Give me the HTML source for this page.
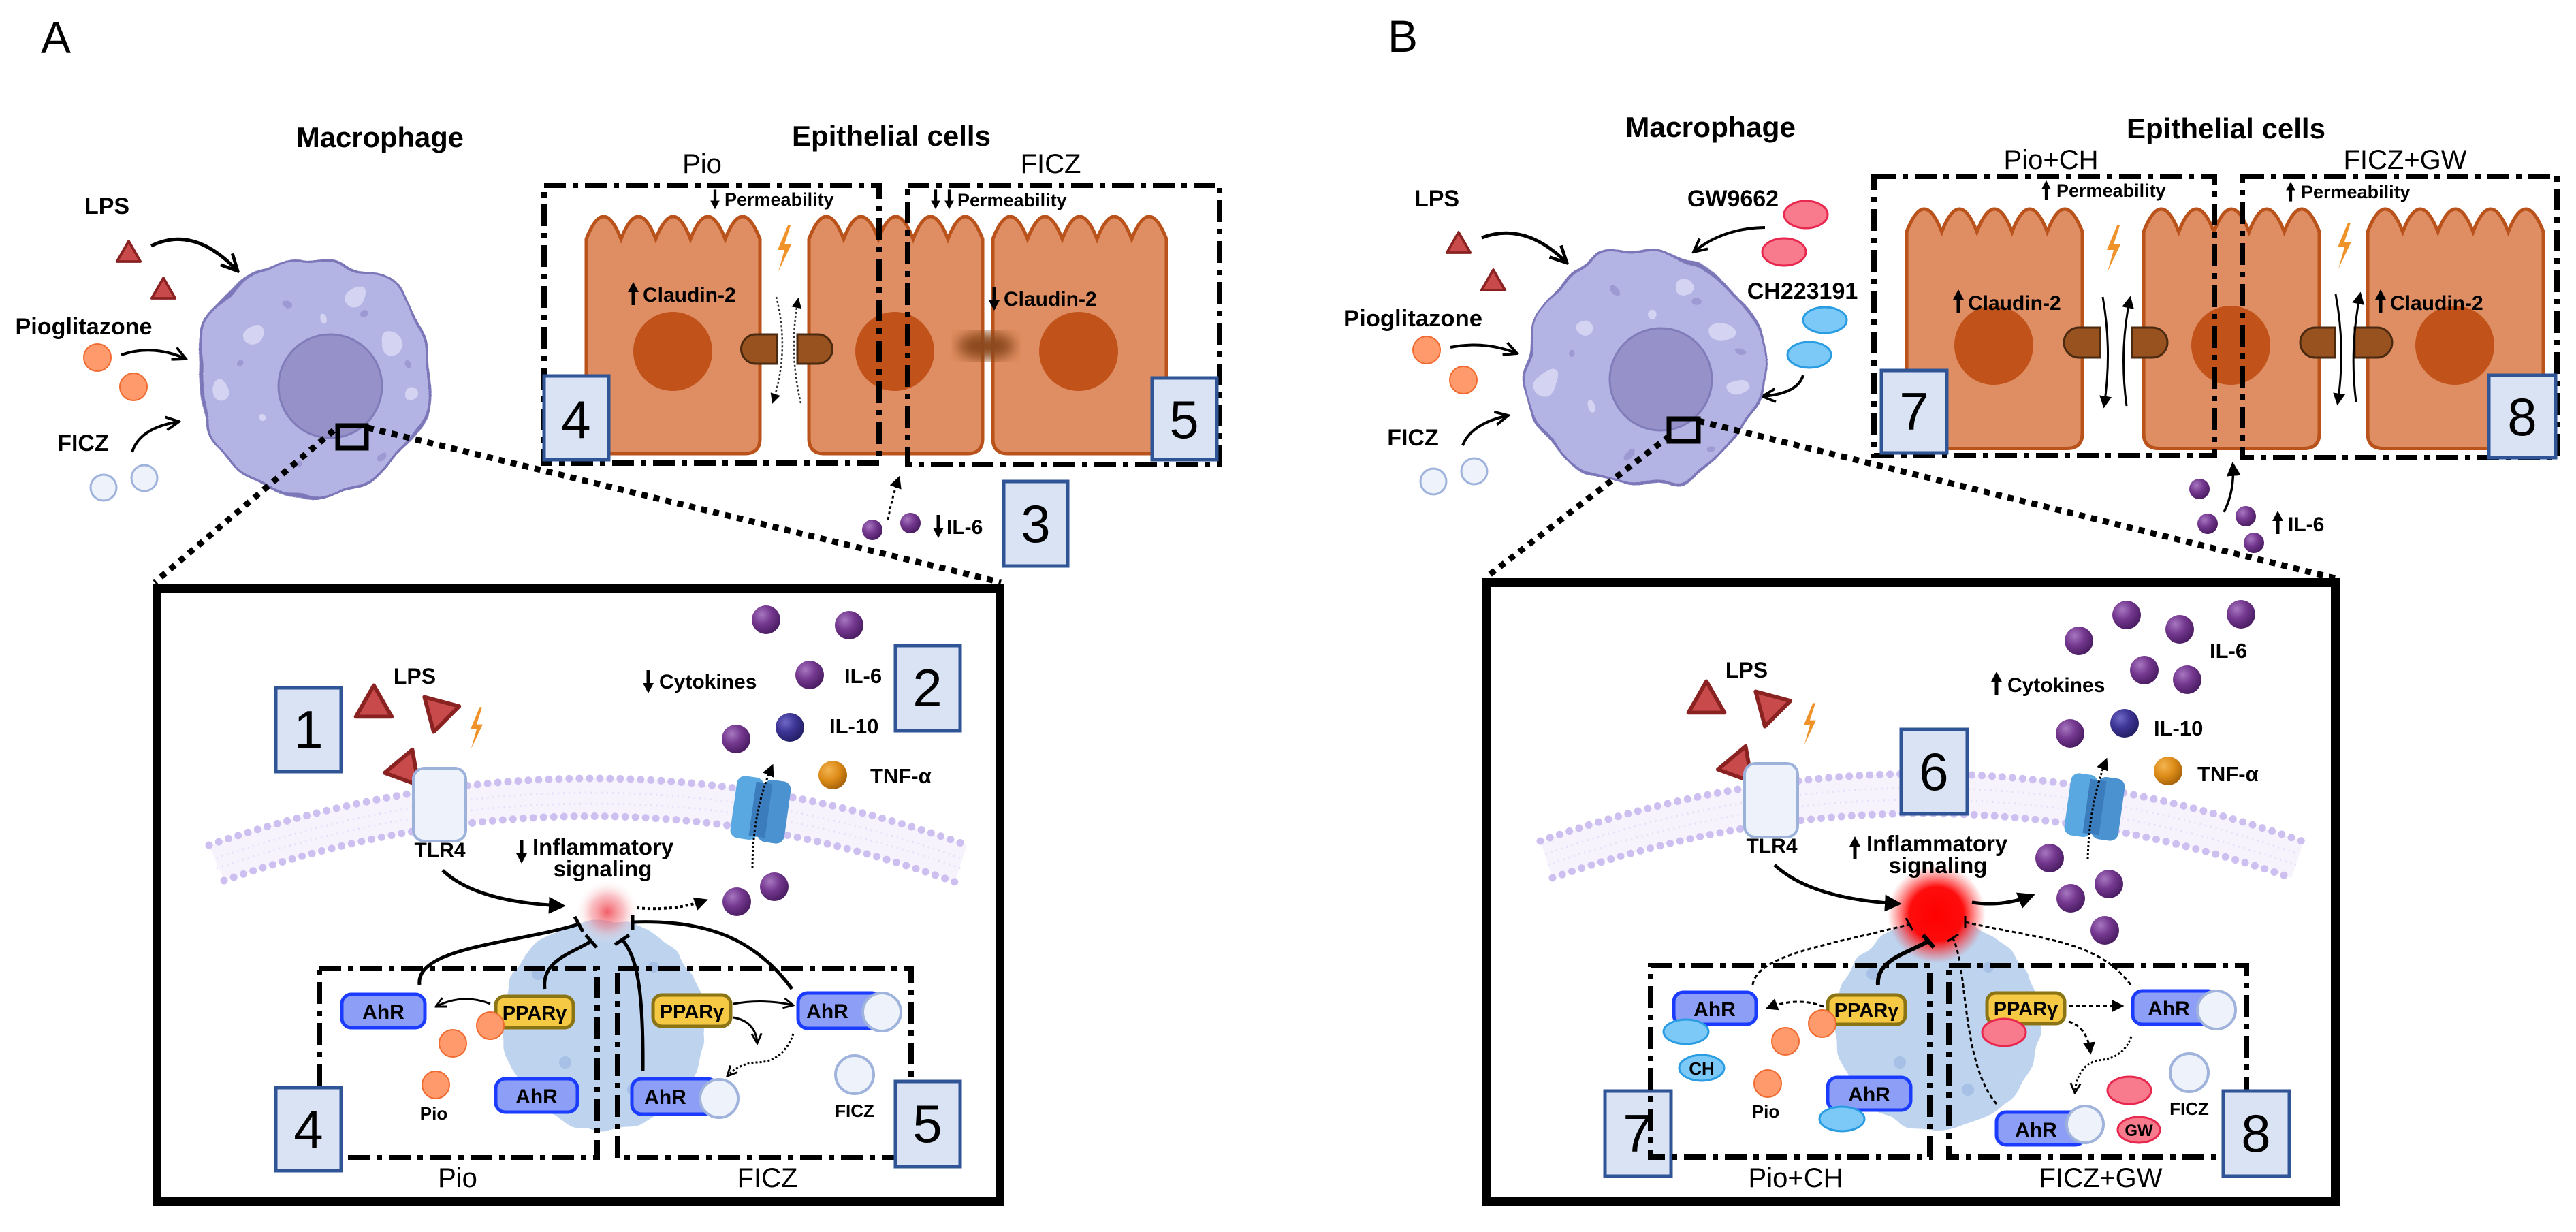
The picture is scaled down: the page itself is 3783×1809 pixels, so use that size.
<!DOCTYPE html>
<html><head><meta charset="utf-8"><style>
html,body{margin:0;padding:0;background:#fff}
svg{display:block}
text{font-family:"Liberation Sans",Arial,sans-serif}
.b{font-weight:bold}
</style></head><body>
<svg width="3783" height="1809" viewBox="0 0 3783 1809" xmlns="http://www.w3.org/2000/svg">
<defs>
<radialGradient id="gP" cx="35%" cy="32%" r="70%"><stop offset="0" stop-color="#a777c0"/><stop offset="0.5" stop-color="#74388f"/><stop offset="1" stop-color="#4b1d63"/></radialGradient>
<radialGradient id="gB" cx="35%" cy="32%" r="70%"><stop offset="0" stop-color="#6f68c4"/><stop offset="0.5" stop-color="#3d3595"/><stop offset="1" stop-color="#231f66"/></radialGradient>
<radialGradient id="gO" cx="35%" cy="32%" r="70%"><stop offset="0" stop-color="#f4b451"/><stop offset="0.55" stop-color="#dc8b17"/><stop offset="1" stop-color="#a8640b"/></radialGradient>
<radialGradient id="glowA"><stop offset="0" stop-color="#f0404a" stop-opacity="0.85"/><stop offset="0.5" stop-color="#f48088" stop-opacity="0.5"/><stop offset="1" stop-color="#ffffff" stop-opacity="0"/></radialGradient>
<radialGradient id="glowB"><stop offset="0" stop-color="#ff0000"/><stop offset="0.55" stop-color="#ff0000" stop-opacity="0.95"/><stop offset="1" stop-color="#ff3030" stop-opacity="0"/></radialGradient>
<filter id="wave" x="-25%" y="-25%" width="150%" height="150%"><feTurbulence type="fractalNoise" baseFrequency="0.018" numOctaves="1" seed="4" result="t"/><feDisplacementMap in="SourceGraphic" in2="t" scale="38" xChannelSelector="R" yChannelSelector="G"/></filter>
<filter id="wave2" x="-25%" y="-25%" width="150%" height="150%"><feTurbulence type="fractalNoise" baseFrequency="0.03" numOctaves="1" seed="7" result="t"/><feDisplacementMap in="SourceGraphic" in2="t" scale="16" xChannelSelector="R" yChannelSelector="G"/></filter>
<filter id="blur"><feGaussianBlur stdDeviation="9"/></filter>
<marker id="ah" viewBox="0 0 10 10" refX="8" refY="5" markerWidth="5" markerHeight="5" orient="auto"><path d="M0,0 L10,5 L0,10 Z" fill="#000"/></marker>
<marker id="ahs" viewBox="0 0 10 10" refX="8" refY="5" markerWidth="6" markerHeight="6" orient="auto"><path d="M0,0 L10,5 L0,10 Z" fill="#000"/></marker>
<marker id="oa" viewBox="0 0 10 10" refX="9" refY="5" markerWidth="6" markerHeight="6" orient="auto"><path d="M1,1 L9,5 L1,9" fill="none" stroke="#000" stroke-width="1.6"/></marker>
<g id="up"><path d="M0,16 V-6" stroke="#000" stroke-width="5"/><path d="M-8,-3 L0,-18 L8,-3 Z" fill="#000"/></g>
<g id="ball"><circle r="21" fill="url(#gP)"/></g>
<g id="balls"><circle r="15" fill="url(#gP)"/></g>
<path id="tri" d="M0,-24 L23,16 L-23,16 Z" fill="#c94a4a" stroke="#8a2222" stroke-width="5" stroke-linejoin="round"/>
<path id="bolt" d="M6,-34 L-9,2 L1,2 L-8,34 L11,-6 L1,-6 L10,-34 Z" fill="#f0922a"/>
<path id="cell" d="M0 33 q25.5 -66 51 0 q25.5 -66 51 0 q25.5 -66 51 0 q25.5 -66 51 0 q25.5 -66 51 0 L255 326 q0 22 -22 22 L22 348 q-22 0 -22 -22 Z" fill="#df8d62" stroke="#b9521b" stroke-width="5"/>
<g id="mac">
 <circle r="172" fill="#b4b4e4" stroke="#7b77b8" stroke-width="4"/>
 <circle cx="-90" cy="-60" r="14" fill="#d4d4f2"/><circle cx="60" cy="-120" r="16" fill="#d4d4f2"/><circle cx="120" cy="-50" r="18" fill="#d4d4f2"/>
 <circle cx="-140" cy="20" r="16" fill="#d4d4f2"/><circle cx="140" cy="30" r="11" fill="#d4d4f2"/><circle cx="-75" cy="60" r="6" fill="#d4d4f2"/>
 <circle cx="20" cy="-80" r="6" fill="#d4d4f2"/><circle cx="-40" cy="-110" r="7" fill="#9d99d2"/><circle cx="80" cy="-95" r="6" fill="#9d99d2"/>
 <circle cx="-110" cy="-20" r="5" fill="#9d99d2"/><circle cx="100" cy="120" r="6" fill="#9d99d2"/><circle cx="-20" cy="130" r="6" fill="#9d99d2"/><circle cx="140" cy="-20" r="5" fill="#9d99d2"/>
</g>
</defs>

<!-- ================= PANEL A ================= -->
<text x="60" y="78" font-size="66">A</text>
<text x="558" y="216" font-size="42" class="b" text-anchor="middle" textLength="246" lengthAdjust="spacingAndGlyphs">Macrophage</text>

<text x="157" y="314" font-size="34" class="b" text-anchor="middle">LPS</text>
<use href="#tri" transform="translate(189,372) scale(0.75)"/>
<use href="#tri" transform="translate(240,426) scale(0.75)"/>
<path d="M222,361 Q285,330 349,398" fill="none" stroke="#000" stroke-width="5" marker-end="url(#oa)"/>
<text x="123" y="491" font-size="34" class="b" text-anchor="middle" textLength="201" lengthAdjust="spacingAndGlyphs">Pioglitazone</text>
<circle cx="143" cy="525" r="20" fill="#fe9a6b" stroke="#f06a30" stroke-width="2"/>
<circle cx="196" cy="568" r="20" fill="#fe9a6b" stroke="#f06a30" stroke-width="2"/>
<path d="M178,521 Q225,505 273,527" fill="none" stroke="#000" stroke-width="4" marker-end="url(#oa)"/>
<text x="122" y="662" font-size="34" class="b" text-anchor="middle">FICZ</text>
<path d="M194,664 Q205,628 263,619" fill="none" stroke="#000" stroke-width="4" marker-end="url(#oa)"/>
<circle cx="152" cy="716" r="19" fill="#eef3fb" stroke="#9fb3dc" stroke-width="3"/>
<circle cx="212" cy="702" r="19" fill="#eef3fb" stroke="#9fb3dc" stroke-width="3"/>

<g filter="url(#wave)"><use href="#mac" transform="translate(460,554)"/></g>
<circle cx="485" cy="567" r="76" fill="#9691c8" stroke="#807cba" stroke-width="3"/>
<rect x="496" y="625" width="42" height="33" fill="none" stroke="#000" stroke-width="7"/>
<path d="M490,632 L227,855" stroke="#000" stroke-width="9" stroke-dasharray="9 9"/>
<path d="M540,628 L1470,855" stroke="#000" stroke-width="9" stroke-dasharray="9 9"/>

<!-- Epithelial A -->
<text x="1309" y="214" font-size="42" class="b" text-anchor="middle" textLength="292" lengthAdjust="spacingAndGlyphs">Epithelial cells</text>
<text x="1031" y="254" font-size="40" text-anchor="middle">Pio</text>
<text x="1543" y="254" font-size="40" text-anchor="middle">FICZ</text>
<use href="#cell" transform="translate(861,318)"/>
<use href="#cell" transform="translate(1188,318)"/>
<use href="#cell" transform="translate(1458,318)"/>
<circle cx="988" cy="516" r="58" fill="#c0521a"/>
<circle cx="1314" cy="516" r="58" fill="#c0521a"/>
<circle cx="1584" cy="516" r="58" fill="#c0521a"/>
<path d="M1141,491 L1110,491 A21.5,21.5 0 0 0 1110,534 L1141,534 Z" fill="#98521f" stroke="#4a2a10" stroke-width="3"/>
<path d="M1171,491 L1201,491 A21.5,21.5 0 0 1 1201,534 L1171,534 Z" fill="#98521f" stroke="#4a2a10" stroke-width="3"/>
<ellipse cx="1448" cy="508" rx="42" ry="20" fill="#8b4a1e" filter="url(#blur)"/>
<use href="#bolt" transform="translate(1151,365)"/>
<path d="M1140,436 Q1160,515 1135,590" fill="none" stroke="#333" stroke-width="2.5" stroke-dasharray="3 3" marker-end="url(#ahs)"/>
<path d="M1176,592 Q1158,515 1172,440" fill="none" stroke="#333" stroke-width="2.5" stroke-dasharray="3 3" marker-end="url(#ahs)"/>
<use href="#up" transform="translate(930,432)"/>
<text x="944" y="443" font-size="30" class="b">Claudin-2</text>
<use href="#up" transform="translate(1460,438) rotate(180)"/>
<text x="1474" y="449" font-size="30" class="b">Claudin-2</text>
<use href="#up" transform="translate(1050,292) rotate(180) scale(0.85)"/>
<text x="1064" y="302" font-size="27" class="b">Permeability</text>
<use href="#up" transform="translate(1374,292) rotate(180) scale(0.85)"/>
<use href="#up" transform="translate(1394,292) rotate(180) scale(0.85)"/>
<text x="1406" y="303" font-size="27" class="b">Permeability</text>
<rect x="799" y="272" width="492" height="408" fill="none" stroke="#000" stroke-width="8" stroke-dasharray="32 10 8 10"/>
<rect x="1333" y="272" width="458" height="410" fill="none" stroke="#000" stroke-width="8" stroke-dasharray="32 10 8 10"/>
<rect x="799" y="552" width="95" height="123" fill="#dae3f3" stroke="#2f5597" stroke-width="5"/>
<text x="846" y="643" font-size="78" text-anchor="middle">4</text>
<rect x="1692" y="555" width="95" height="120" fill="#dae3f3" stroke="#2f5597" stroke-width="5"/>
<text x="1739" y="643" font-size="78" text-anchor="middle">5</text>
<use href="#balls" transform="translate(1281,778)"/>
<use href="#balls" transform="translate(1337,768)"/>
<path d="M1304,763 Q1310,730 1320,702" fill="none" stroke="#000" stroke-width="3" stroke-dasharray="4 4" marker-end="url(#ahs)"/>
<use href="#up" transform="translate(1378,772) rotate(180)"/>
<text x="1390" y="784" font-size="30" class="b">IL-6</text>
<rect x="1474" y="707" width="94" height="124" fill="#dae3f3" stroke="#2f5597" stroke-width="5"/>
<text x="1521" y="796" font-size="78" text-anchor="middle">3</text>

<!-- Inner A -->
<rect x="230.5" y="864.5" width="1238" height="900" fill="#fff" stroke="#000" stroke-width="13"/>
<path d="M307,1241 Q874,1045 1420,1241 L1402,1295 Q874,1103 329,1293 Z" fill="#f6f3fd"/>
<path d="M307,1241 Q874,1045 1420,1241" fill="none" stroke="#cdbff0" stroke-width="11" stroke-linecap="round" stroke-dasharray="0 15"/>
<path d="M329,1293 Q874,1103 1402,1295" fill="none" stroke="#cdbff0" stroke-width="11" stroke-linecap="round" stroke-dasharray="0 15"/>
<path d="M318,1260 Q874,1068 1411,1260 M318,1275 Q874,1085 1411,1275" fill="none" stroke="#e6defa" stroke-width="3" stroke-dasharray="2 6"/>
<g filter="url(#wave2)"><ellipse cx="886" cy="1505" rx="150" ry="155" fill="#bdd3ee"/></g>
<g fill="#a6c0e6"><circle cx="790" cy="1430" r="9"/><circle cx="960" cy="1420" r="8"/><circle cx="1000" cy="1500" r="9"/><circle cx="830" cy="1560" r="9"/><circle cx="930" cy="1600" r="9"/><circle cx="810" cy="1480" r="8"/></g>
<circle cx="892" cy="1339" r="48" fill="url(#glowA)"/>

<rect x="405" y="1010" width="96" height="123" fill="#dae3f3" stroke="#2f5597" stroke-width="5"/>
<text x="453" y="1098" font-size="78" text-anchor="middle">1</text>
<text x="609" y="1004" font-size="32" class="b" text-anchor="middle">LPS</text>
<use href="#tri" transform="translate(549,1034) scale(1.15)"/>
<use href="#tri" transform="translate(644,1048) rotate(195) scale(1.15)"/>
<use href="#tri" transform="translate(592,1130) rotate(-100) scale(1.15)"/>
<use href="#bolt" transform="translate(699,1069) scale(0.9)"/>
<rect x="607" y="1128" width="77" height="107" rx="16" fill="#eef3fb" stroke="#9db2db" stroke-width="4"/>
<text x="646" y="1258" font-size="30" class="b" text-anchor="middle">TLR4</text>
<use href="#up" transform="translate(766,1250) rotate(180)"/>
<text x="782" y="1255" font-size="33" class="b">Inflammatory</text>
<text x="885" y="1287" font-size="33" class="b" text-anchor="middle">signaling</text>
<path d="M650,1278 Q700,1325 826,1330" fill="none" stroke="#000" stroke-width="5" marker-end="url(#ah)"/>
<path d="M935,1333 Q990,1338 1036,1322" fill="none" stroke="#000" stroke-width="4" stroke-dasharray="4 4" marker-end="url(#ah)"/>
<use href="#ball" transform="translate(1082,1324)"/>
<use href="#ball" transform="translate(1137,1302)"/>
<g transform="translate(1117,1189) rotate(8)"><rect x="-40" y="-46" width="40" height="92" rx="12" fill="#5aa8e2"/><rect x="0" y="-46" width="40" height="92" rx="12" fill="#4a92d0"/><rect x="-12" y="-40" width="24" height="80" fill="#3a7cbc"/></g>
<path d="M1105,1275 Q1105,1190 1134,1125" fill="none" stroke="#000" stroke-width="3" stroke-dasharray="3 3" marker-end="url(#ahs)"/>
<use href="#up" transform="translate(952,1000) rotate(180)"/>
<text x="968" y="1011" font-size="30" class="b">Cytokines</text>
<use href="#ball" transform="translate(1125,910)"/><use href="#ball" transform="translate(1247,918)"/>
<use href="#ball" transform="translate(1189,991)"/><use href="#ball" transform="translate(1081,1085)"/>
<circle cx="1160" cy="1068" r="21" fill="url(#gB)"/>
<circle cx="1223" cy="1138" r="21" fill="url(#gO)"/>
<text x="1240" y="1003" font-size="31" class="b">IL-6</text>
<text x="1218" y="1077" font-size="31" class="b">IL-10</text>
<text x="1278" y="1150" font-size="31" class="b">TNF-α</text>
<rect x="1315" y="948" width="95" height="125" fill="#dae3f3" stroke="#2f5597" stroke-width="5"/>
<text x="1362" y="1037" font-size="78" text-anchor="middle">2</text>

<rect x="469" y="1422" width="408" height="278" fill="none" stroke="#000" stroke-width="8" stroke-dasharray="32 10 8 10"/>
<rect x="907" y="1422" width="431" height="278" fill="none" stroke="#000" stroke-width="8" stroke-dasharray="32 10 8 10"/>
<g fill="none" stroke="#000" stroke-width="5">
<path d="M616,1446 C610,1390 760,1385 850,1357"/><path d="M844,1346 L856,1368"/>
<path d="M800,1452 C795,1410 840,1400 868,1382"/><path d="M860,1373 L876,1391"/>
<path d="M944,1572 C945,1450 935,1405 914,1380"/><path d="M903,1387 L924,1373"/>
<path d="M1163,1452 C1110,1380 1040,1350 930,1354"/><path d="M929,1343 L929,1365"/>
</g>
<path d="M720,1474 Q680,1458 640,1478" fill="none" stroke="#000" stroke-width="3" marker-end="url(#oa)"/>
<rect x="502" y="1460" width="122" height="49" rx="14" fill="#8c9ef5" stroke="#1b3cff" stroke-width="5"/>
<text x="563" y="1496" font-size="30" class="b" text-anchor="middle">AhR</text>
<rect x="728" y="1463" width="114" height="46" rx="13" fill="#f6c945" stroke="#8a7414" stroke-width="5"/>
<text x="785" y="1497" font-size="29" class="b" text-anchor="middle">PPARγ</text>
<circle cx="720" cy="1506" r="20" fill="#fe9a6b" stroke="#f06a30" stroke-width="2"/>
<circle cx="665" cy="1532" r="20" fill="#fe9a6b" stroke="#f06a30" stroke-width="2"/>
<circle cx="640" cy="1593" r="20" fill="#fe9a6b" stroke="#f06a30" stroke-width="2"/>
<text x="637" y="1644" font-size="26" class="b" text-anchor="middle">Pio</text>
<rect x="728" y="1584" width="120" height="49" rx="14" fill="#8c9ef5" stroke="#1b3cff" stroke-width="5"/>
<text x="788" y="1620" font-size="30" class="b" text-anchor="middle">AhR</text>
<path d="M1077,1474 Q1120,1466 1165,1476" fill="none" stroke="#000" stroke-width="3" marker-end="url(#oa)"/>
<path d="M1077,1494 Q1110,1500 1112,1532" fill="none" stroke="#000" stroke-width="3" marker-end="url(#oa)"/>
<path d="M1165,1518 Q1150,1560 1110,1560 Q1085,1562 1068,1580" fill="none" stroke="#000" stroke-width="3" stroke-dasharray="3 3" marker-end="url(#oa)"/>
<rect x="959" y="1461" width="114" height="46" rx="13" fill="#f6c945" stroke="#8a7414" stroke-width="5"/>
<text x="1016" y="1495" font-size="29" class="b" text-anchor="middle">PPARγ</text>
<rect x="1172" y="1458" width="122" height="52" rx="14" fill="#8c9ef5" stroke="#1b3cff" stroke-width="5"/>
<text x="1215" y="1495" font-size="30" class="b" text-anchor="middle">AhR</text>
<circle cx="1295" cy="1486" r="28" fill="#eef3fb" stroke="#9fb3dc" stroke-width="4"/>
<rect x="928" y="1584" width="125" height="52" rx="14" fill="#8c9ef5" stroke="#1b3cff" stroke-width="5"/>
<text x="977" y="1621" font-size="30" class="b" text-anchor="middle">AhR</text>
<circle cx="1056" cy="1613" r="28" fill="#eef3fb" stroke="#9fb3dc" stroke-width="4"/>
<circle cx="1255" cy="1578" r="28" fill="#eef3fb" stroke="#9fb3dc" stroke-width="4"/>
<text x="1255" y="1640" font-size="26" class="b" text-anchor="middle">FICZ</text>
<rect x="405" y="1597" width="96" height="122" fill="#dae3f3" stroke="#2f5597" stroke-width="5"/>
<text x="453" y="1685" font-size="78" text-anchor="middle">4</text>
<rect x="1315" y="1588" width="95" height="125" fill="#dae3f3" stroke="#2f5597" stroke-width="5"/>
<text x="1362" y="1677" font-size="78" text-anchor="middle">5</text>
<text x="672" y="1743" font-size="40" text-anchor="middle">Pio</text>
<text x="1127" y="1743" font-size="40" text-anchor="middle">FICZ</text>

<!-- ================= PANEL B ================= -->
<text x="2038" y="76" font-size="66">B</text>
<text x="2512" y="201" font-size="42" class="b" text-anchor="middle" textLength="250" lengthAdjust="spacingAndGlyphs">Macrophage</text>
<text x="2110" y="303" font-size="34" class="b" text-anchor="middle">LPS</text>
<use href="#tri" transform="translate(2142,359) scale(0.75)"/>
<use href="#tri" transform="translate(2193,414) scale(0.75)"/>
<path d="M2176,349 Q2240,325 2301,386" fill="none" stroke="#000" stroke-width="5" marker-end="url(#oa)"/>
<text x="2075" y="479" font-size="34" class="b" text-anchor="middle" textLength="204" lengthAdjust="spacingAndGlyphs">Pioglitazone</text>
<circle cx="2095" cy="514" r="20" fill="#fe9a6b" stroke="#f06a30" stroke-width="2"/>
<circle cx="2149" cy="558" r="20" fill="#fe9a6b" stroke="#f06a30" stroke-width="2"/>
<path d="M2130,510 Q2180,500 2228,519" fill="none" stroke="#000" stroke-width="4" marker-end="url(#oa)"/>
<text x="2075" y="654" font-size="34" class="b" text-anchor="middle">FICZ</text>
<path d="M2148,654 Q2160,622 2215,610" fill="none" stroke="#000" stroke-width="4" marker-end="url(#oa)"/>
<circle cx="2105" cy="707" r="19" fill="#eef3fb" stroke="#9fb3dc" stroke-width="3"/>
<circle cx="2165" cy="692" r="19" fill="#eef3fb" stroke="#9fb3dc" stroke-width="3"/>
<text x="2545" y="303" font-size="34" class="b" text-anchor="middle">GW9662</text>
<ellipse cx="2652" cy="315" rx="32" ry="20" fill="#f77b8c" stroke="#e8284e" stroke-width="3"/>
<ellipse cx="2620" cy="370" rx="32" ry="20" fill="#f77b8c" stroke="#e8284e" stroke-width="3"/>
<path d="M2592,334 Q2530,335 2487,370" fill="none" stroke="#000" stroke-width="4" marker-end="url(#oa)"/>
<text x="2647" y="439" font-size="34" class="b" text-anchor="middle">CH223191</text>
<ellipse cx="2680" cy="470" rx="32" ry="19" fill="#7cc8f6" stroke="#2a9ce2" stroke-width="3"/>
<ellipse cx="2657" cy="521" rx="32" ry="19" fill="#7cc8f6" stroke="#2a9ce2" stroke-width="3"/>
<path d="M2648,551 Q2640,578 2588,582" fill="none" stroke="#000" stroke-width="4" marker-end="url(#oa)"/>
<g filter="url(#wave)"><use href="#mac" transform="translate(2413,539)"/></g>
<circle cx="2439" cy="557" r="75" fill="#9691c8" stroke="#807cba" stroke-width="3"/>
<rect x="2451" y="615" width="43" height="33" fill="none" stroke="#000" stroke-width="7"/>
<path d="M2452,640 L2182,848" stroke="#000" stroke-width="9" stroke-dasharray="9 9"/>
<path d="M2494,618 L3433,850" stroke="#000" stroke-width="9" stroke-dasharray="9 9"/>

<!-- Epithelial B -->
<text x="3269" y="203" font-size="42" class="b" text-anchor="middle" textLength="292" lengthAdjust="spacingAndGlyphs">Epithelial cells</text>
<text x="3012" y="248" font-size="40" text-anchor="middle">Pio+CH</text>
<text x="3532" y="248" font-size="40" text-anchor="middle">FICZ+GW</text>
<use href="#cell" transform="translate(2800,307) scale(1.012,1.01)"/>
<use href="#cell" transform="translate(3148,307) scale(1.012,1.01)"/>
<use href="#cell" transform="translate(3477,307) scale(1.012,1.01)"/>
<circle cx="2928" cy="507" r="58" fill="#c0521a"/>
<circle cx="3276" cy="507" r="58" fill="#c0521a"/>
<circle cx="3605" cy="507" r="58" fill="#c0521a"/>
<path d="M3084,481 L3053,481 A22,22 0 0 0 3053,525 L3084,525 Z" fill="#98521f" stroke="#4a2a10" stroke-width="3"/>
<path d="M3131,481 L3161,481 A22,22 0 0 1 3161,525 L3131,525 Z" fill="#98521f" stroke="#4a2a10" stroke-width="3"/>
<path d="M3429,481 L3400,481 A22,22 0 0 0 3400,525 L3429,525 Z" fill="#98521f" stroke="#4a2a10" stroke-width="3"/>
<path d="M3458,481 L3491,481 A22,22 0 0 1 3491,525 L3458,525 Z" fill="#98521f" stroke="#4a2a10" stroke-width="3"/>
<use href="#bolt" transform="translate(3103,365)"/>
<use href="#bolt" transform="translate(3442,361)"/>
<path d="M3088,436 Q3102,515 3090,596" fill="none" stroke="#000" stroke-width="3" marker-end="url(#ahs)"/>
<path d="M3123,596 Q3112,515 3128,438" fill="none" stroke="#000" stroke-width="3" marker-end="url(#ahs)"/>
<path d="M3430,432 Q3445,512 3433,592" fill="none" stroke="#000" stroke-width="3" marker-end="url(#ahs)"/>
<path d="M3460,590 Q3450,512 3466,432" fill="none" stroke="#000" stroke-width="3" marker-end="url(#ahs)"/>
<use href="#up" transform="translate(2876,443)"/>
<text x="2890" y="455" font-size="30" class="b">Claudin-2</text>
<use href="#up" transform="translate(3496,443)"/>
<text x="3510" y="455" font-size="30" class="b">Claudin-2</text>
<use href="#up" transform="translate(3005,280) scale(0.85)"/>
<text x="3020" y="289" font-size="27" class="b">Permeability</text>
<use href="#up" transform="translate(3364,282) scale(0.85)"/>
<text x="3379" y="291" font-size="27" class="b">Permeability</text>
<rect x="2752" y="259" width="500" height="410" fill="none" stroke="#000" stroke-width="8" stroke-dasharray="32 10 8 10"/>
<rect x="3293" y="259" width="462" height="413" fill="none" stroke="#000" stroke-width="8" stroke-dasharray="32 10 8 10"/>
<rect x="2763" y="544" width="96" height="121" fill="#dae3f3" stroke="#2f5597" stroke-width="5"/>
<text x="2811" y="631" font-size="78" text-anchor="middle">7</text>
<rect x="3655" y="551" width="98" height="121" fill="#dae3f3" stroke="#2f5597" stroke-width="5"/>
<text x="3704" y="639" font-size="78" text-anchor="middle">8</text>
<use href="#balls" transform="translate(3230,718)"/>
<use href="#balls" transform="translate(3242,769)"/>
<use href="#balls" transform="translate(3298,758)"/>
<use href="#balls" transform="translate(3310,797)"/>
<path d="M3266,752 Q3282,720 3279,682" fill="none" stroke="#000" stroke-width="3.5" marker-end="url(#ahs)"/>
<use href="#up" transform="translate(3345,768)"/>
<text x="3360" y="780" font-size="30" class="b">IL-6</text>

<!-- Inner B -->
<rect x="2182.5" y="855.5" width="1247" height="909" fill="#fff" stroke="#000" stroke-width="13"/>
<path d="M2262,1235 Q2822,1037 3383,1236 L3365,1289 Q2822,1100 2280,1289 Z" fill="#f6f3fd"/>
<path d="M2262,1235 Q2822,1037 3383,1236" fill="none" stroke="#cdbff0" stroke-width="11" stroke-linecap="round" stroke-dasharray="0 15"/>
<path d="M2280,1289 Q2822,1100 3365,1289" fill="none" stroke="#cdbff0" stroke-width="11" stroke-linecap="round" stroke-dasharray="0 15"/>
<path d="M2270,1254 Q2822,1060 3375,1254 M2273,1270 Q2822,1078 3372,1270" fill="none" stroke="#e6defa" stroke-width="3" stroke-dasharray="2 6"/>
<g filter="url(#wave2)"><ellipse cx="2845" cy="1505" rx="150" ry="155" fill="#bdd3ee"/></g>
<g fill="#a6c0e6"><circle cx="2750" cy="1430" r="9"/><circle cx="2920" cy="1420" r="8"/><circle cx="2960" cy="1500" r="9"/><circle cx="2790" cy="1560" r="9"/><circle cx="2890" cy="1600" r="9"/><circle cx="2770" cy="1480" r="8"/></g>
<circle cx="2844" cy="1342" r="72" fill="url(#glowB)"/>

<rect x="2357" y="1602" width="97" height="125" fill="#dae3f3" stroke="#2f5597" stroke-width="5"/>
<text x="2405" y="1691" font-size="78" text-anchor="middle">7</text>
<text x="2565" y="995" font-size="32" class="b" text-anchor="middle">LPS</text>
<use href="#tri" transform="translate(2506,1028) scale(1.15)"/>
<use href="#tri" transform="translate(2599,1040) rotate(195) scale(1.15)"/>
<use href="#tri" transform="translate(2550,1125) rotate(-100) scale(1.15)"/>
<use href="#bolt" transform="translate(2657,1063) scale(0.9)"/>
<rect x="2562" y="1121" width="78" height="108" rx="16" fill="#eef3fb" stroke="#9db2db" stroke-width="4"/>
<text x="2602" y="1252" font-size="30" class="b" text-anchor="middle">TLR4</text>
<rect x="2792" y="1071" width="97" height="124" fill="#dae3f3" stroke="#2f5597" stroke-width="5"/>
<text x="2840" y="1160" font-size="78" text-anchor="middle">6</text>
<use href="#up" transform="translate(2724,1246)"/>
<text x="2741" y="1250" font-size="33" class="b">Inflammatory</text>
<text x="2846" y="1282" font-size="33" class="b" text-anchor="middle">signaling</text>
<path d="M2606,1270 Q2660,1320 2788,1327" fill="none" stroke="#000" stroke-width="5" marker-end="url(#ah)"/>
<path d="M2896,1325 Q2940,1332 2984,1315" fill="none" stroke="#000" stroke-width="5" marker-end="url(#ah)"/>
<use href="#ball" transform="translate(3010,1260)"/><use href="#ball" transform="translate(3097,1298)"/>
<use href="#ball" transform="translate(3041,1319)"/><use href="#ball" transform="translate(3091,1366)"/>
<g transform="translate(3076,1185) rotate(8)"><rect x="-40" y="-46" width="40" height="92" rx="12" fill="#5aa8e2"/><rect x="0" y="-46" width="40" height="92" rx="12" fill="#4a92d0"/><rect x="-12" y="-40" width="24" height="80" fill="#3a7cbc"/></g>
<path d="M3066,1262 Q3068,1180 3093,1116" fill="none" stroke="#000" stroke-width="3" stroke-dasharray="3 3" marker-end="url(#ahs)"/>
<use href="#up" transform="translate(2932,1004)"/>
<text x="2948" y="1016" font-size="30" class="b">Cytokines</text>
<use href="#ball" transform="translate(3053,941)"/><use href="#ball" transform="translate(3123,903)"/>
<use href="#ball" transform="translate(3201,924)"/><use href="#ball" transform="translate(3291,902)"/>
<use href="#ball" transform="translate(3149,984)"/><use href="#ball" transform="translate(3212,998)"/>
<use href="#ball" transform="translate(3040,1077)"/>
<circle cx="3120" cy="1062" r="21" fill="url(#gB)"/>
<circle cx="3184" cy="1132" r="21" fill="url(#gO)"/>
<text x="3245" y="966" font-size="31" class="b">IL-6</text>
<text x="3163" y="1080" font-size="31" class="b">IL-10</text>
<text x="3227" y="1147" font-size="31" class="b">TNF-α</text>

<rect x="2424" y="1418" width="410" height="281" fill="none" stroke="#000" stroke-width="8" stroke-dasharray="32 10 8 10"/>
<rect x="2862" y="1418" width="437" height="281" fill="none" stroke="#000" stroke-width="8" stroke-dasharray="32 10 8 10"/>
<g fill="none" stroke="#000" stroke-width="3" stroke-dasharray="6 4">
<path d="M2574,1446 C2580,1400 2700,1385 2805,1357"/>
<path d="M2932,1621 C2880,1560 2890,1420 2868,1378"/>
<path d="M3129,1446 C3080,1380 3000,1380 2886,1354"/>
</g>
<g fill="none" stroke="#000" stroke-width="3"><path d="M2799,1348 L2809,1366"/><path d="M2860,1382 L2876,1372"/><path d="M2886,1345 L2886,1363"/></g>
<path d="M2758,1446 C2755,1410 2800,1400 2832,1382" fill="none" stroke="#000" stroke-width="6"/>
<path d="M2824,1373 L2840,1391" stroke="#000" stroke-width="6"/>
<path d="M2678,1478 Q2640,1463 2596,1480" fill="none" stroke="#000" stroke-width="3" stroke-dasharray="6 4" marker-end="url(#ahs)"/>
<rect x="2458" y="1457" width="121" height="47" rx="14" fill="#8c9ef5" stroke="#1b3cff" stroke-width="5"/>
<text x="2518" y="1492" font-size="30" class="b" text-anchor="middle">AhR</text>
<ellipse cx="2476" cy="1515" rx="33" ry="18" fill="#7cc8f6" stroke="#2a9ce2" stroke-width="3"/>
<ellipse cx="2499" cy="1568" rx="33" ry="19" fill="#7cc8f6" stroke="#2a9ce2" stroke-width="3"/>
<text x="2499" y="1578" font-size="26" class="b" text-anchor="middle">CH</text>
<rect x="2684" y="1461" width="114" height="43" rx="13" fill="#f6c945" stroke="#8a7414" stroke-width="5"/>
<text x="2741" y="1493" font-size="29" class="b" text-anchor="middle">PPARγ</text>
<circle cx="2676" cy="1503" r="20" fill="#fe9a6b" stroke="#f06a30" stroke-width="2"/>
<circle cx="2622" cy="1529" r="20" fill="#fe9a6b" stroke="#f06a30" stroke-width="2"/>
<circle cx="2596" cy="1591" r="20" fill="#fe9a6b" stroke="#f06a30" stroke-width="2"/>
<text x="2593" y="1641" font-size="26" class="b" text-anchor="middle">Pio</text>
<rect x="2684" y="1582" width="122" height="48" rx="14" fill="#8c9ef5" stroke="#1b3cff" stroke-width="5"/>
<text x="2745" y="1617" font-size="30" class="b" text-anchor="middle">AhR</text>
<ellipse cx="2705" cy="1643" rx="33" ry="18" fill="#7cc8f6" stroke="#2a9ce2" stroke-width="3"/>

<path d="M3038,1477 L3116,1477" fill="none" stroke="#000" stroke-width="3" stroke-dasharray="6 4" marker-end="url(#ahs)"/>
<path d="M3038,1500 Q3065,1508 3070,1545" fill="none" stroke="#000" stroke-width="3" stroke-dasharray="6 4" marker-end="url(#ahs)"/>
<path d="M3130,1522 Q3118,1555 3080,1557 Q3050,1565 3047,1605" fill="none" stroke="#000" stroke-width="3" stroke-dasharray="3 3" marker-end="url(#oa)"/>
<rect x="2918" y="1458" width="114" height="45" rx="13" fill="#f6c945" stroke="#8a7414" stroke-width="5"/>
<text x="2975" y="1491" font-size="29" class="b" text-anchor="middle">PPARγ</text>
<ellipse cx="2943" cy="1516" rx="32" ry="20" fill="#f77b8c" stroke="#e8284e" stroke-width="3"/>
<rect x="3132" y="1455" width="124" height="49" rx="14" fill="#8c9ef5" stroke="#1b3cff" stroke-width="5"/>
<text x="3185" y="1491" font-size="30" class="b" text-anchor="middle">AhR</text>
<circle cx="3255" cy="1483" r="28" fill="#eef3fb" stroke="#9fb3dc" stroke-width="4"/>
<circle cx="3215" cy="1575" r="28" fill="#eef3fb" stroke="#9fb3dc" stroke-width="4"/>
<text x="3215" y="1637" font-size="26" class="b" text-anchor="middle">FICZ</text>
<ellipse cx="3127" cy="1601" rx="32" ry="20" fill="#f77b8c" stroke="#e8284e" stroke-width="3"/>
<ellipse cx="3141" cy="1659" rx="31" ry="19" fill="#f77b8c" stroke="#e8284e" stroke-width="3"/>
<text x="3141" y="1668" font-size="24" class="b" text-anchor="middle">GW</text>
<rect x="2932" y="1633" width="130" height="48" rx="14" fill="#8c9ef5" stroke="#1b3cff" stroke-width="5"/>
<text x="2990" y="1669" font-size="30" class="b" text-anchor="middle">AhR</text>
<circle cx="3062" cy="1651" r="27" fill="#eef3fb" stroke="#9fb3dc" stroke-width="4"/>
<rect x="3265" y="1602" width="97" height="125" fill="#dae3f3" stroke="#2f5597" stroke-width="5"/>
<text x="3313" y="1691" font-size="78" text-anchor="middle">8</text>
<text x="2637" y="1743" font-size="40" text-anchor="middle">Pio+CH</text>
<text x="3085" y="1743" font-size="40" text-anchor="middle">FICZ+GW</text>
</svg>
</body></html>
